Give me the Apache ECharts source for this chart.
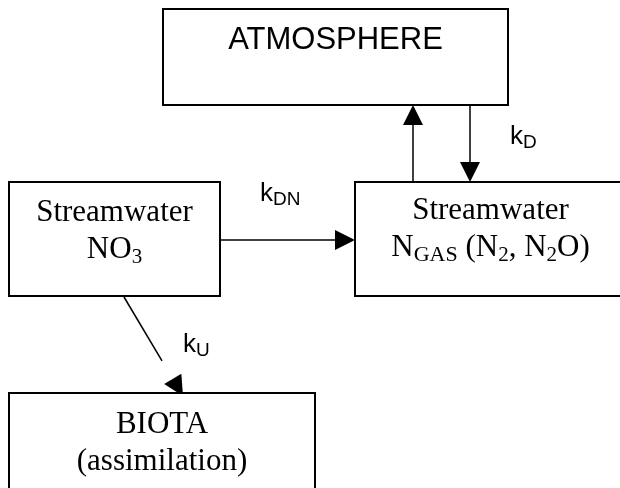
<!DOCTYPE html>
<html>
<head>
<meta charset="utf-8">
<script src="https://cdn.jsdelivr.net/npm/echarts@6/dist/echarts.min.js"></script>
<style>
html,body{margin:0;padding:0;background:#fff;}
#chart{width:620px;height:488px;}
</style>
</head>
<body>
<div id="chart"></div>
<script>
// diagram boxes, in page pixels (x0, y0, x1, y1)
var boxNames = ['ATMOSPHERE', 'Streamwater NO3', 'Streamwater NGAS', 'BIOTA'];
var boxText = [
    '{a|ATMOSPHERE}',
    '{t|Streamwater}\n{t|NO}{s|3}',
    '{t|Streamwater}\n{t|N}{c|GAS}{t| (N}{s|2}{t|, N}{s|2}{t|O)}',
    '{t|BIOTA}\n{t|(assimilation)}'
];
var boxX0 = [163, 9, 355, 9];
var boxY0 = [9, 182, 182, 393];
var boxX1 = [508, 220, 626, 315];
var boxY1 = [105, 296, 296, 495];
var boxTextY = [40, 231, 229, 443];

// fluxes between boxes: start, arrow tip, gap left before the head
var arrowFrom = [[220, 240], [413, 182], [470, 105], [124, 297]];
var arrowTo = [[355, 240], [413, 105], [470, 182], [183, 396]];
var arrowGap = [0, 0, 0, 21];

// rate constants: subscript, left of the "k", its baseline
var rateSub = ['DN', 'D', 'U'];
var ratePos = [[260, 203], [510, 146], [183, 354]];

var serif = '"Liberation Serif", "Times New Roman", serif';
var sans = '"Liberation Sans", Arial, sans-serif';

var myChart = echarts.init(document.getElementById('chart'));

var boxData = boxNames.map(function (n, i) {
    return [boxX0[i], boxY0[i], boxX1[i], boxY1[i], boxTextY[i], i];
});
var arrowData = arrowFrom.map(function (f, i) {
    return [f[0], f[1], arrowTo[i][0], arrowTo[i][1], arrowGap[i]];
});
var rateData = rateSub.map(function (s, i) {
    return [ratePos[i][0], ratePos[i][1], i];
});

var option = {
    animation: false,
    grid: {left: 0, right: 0, top: 0, bottom: 0},
    xAxis: {type: 'value', min: 0, max: 620, show: false},
    yAxis: {type: 'value', min: 0, max: 488, inverse: true, show: false},
    series: [
        {
            type: 'custom',
            name: 'arrows',
            z: 2,
            silent: true,
            data: arrowData,
            renderItem: function (params, api) {
                var p1 = api.coord([api.value(0), api.value(1)]);
                var p2 = api.coord([api.value(2), api.value(3)]);
                var gap = api.value(4);
                var dx = p2[0] - p1[0], dy = p2[1] - p1[1];
                var len = Math.sqrt(dx * dx + dy * dy);
                var ux = dx / len, uy = dy / len;
                var headLen = 20, halfW = 10;
                var bx = p2[0] - ux * headLen, by = p2[1] - uy * headLen;
                var ex = bx - ux * gap, ey = by - uy * gap;
                return {
                    type: 'group',
                    children: [
                        {
                            type: 'line',
                            shape: {x1: p1[0], y1: p1[1], x2: ex, y2: ey},
                            style: {stroke: '#000', lineWidth: 1.5}
                        },
                        {
                            type: 'polygon',
                            shape: {points: [
                                [p2[0], p2[1]],
                                [bx - uy * halfW, by + ux * halfW],
                                [bx + uy * halfW, by - ux * halfW]
                            ]},
                            style: {fill: '#000'}
                        }
                    ]
                };
            }
        },
        {
            type: 'custom',
            name: 'boxes',
            z: 3,
            silent: true,
            data: boxData,
            renderItem: function (params, api) {
                var a = api.coord([api.value(0), api.value(1)]);
                var b = api.coord([api.value(2), api.value(3)]);
                var ty = api.coord([0, api.value(4)])[1];
                var idx = api.value(5);
                return {
                    type: 'group',
                    children: [
                        {
                            type: 'rect',
                            shape: {x: a[0], y: a[1], width: b[0] - a[0], height: b[1] - a[1]},
                            style: {fill: '#fff', stroke: '#000', lineWidth: 2}
                        },
                        {
                            type: 'text',
                            x: (a[0] + b[0]) / 2,
                            y: ty,
                            style: {
                                text: boxText[idx],
                                align: 'center',
                                verticalAlign: 'middle',
                                rich: {
                                    a: {fontFamily: sans, fontSize: 31, fill: '#000', lineHeight: 34},
                                    t: {fontFamily: serif, fontSize: 31, fill: '#000', lineHeight: 37},
                                    s: {fontFamily: serif, fontSize: 21, fill: '#000', lineHeight: 24, verticalAlign: 'bottom'},
                                    c: {fontFamily: serif, fontSize: 22, fill: '#000', lineHeight: 30, verticalAlign: 'bottom'}
                                }
                            }
                        }
                    ]
                };
            }
        },
        {
            type: 'custom',
            name: 'rates',
            z: 4,
            silent: true,
            data: rateData,
            renderItem: function (params, api) {
                var p = api.coord([api.value(0), api.value(1)]);
                var idx = api.value(2);
                return {
                    type: 'text',
                    x: p[0],
                    y: p[1] - 9,
                    style: {
                        text: '{k|k}{d|' + rateSub[idx] + '}',
                        align: 'left',
                        verticalAlign: 'middle',
                        rich: {
                            k: {fontFamily: sans, fontSize: 26, fill: '#000', lineHeight: 30},
                            d: {fontFamily: sans, fontSize: 19, fill: '#000', lineHeight: 19, verticalAlign: 'bottom'}
                        }
                    }
                };
            }
        }
    ]
};
myChart.setOption(option);
</script>
</body>
</html>
